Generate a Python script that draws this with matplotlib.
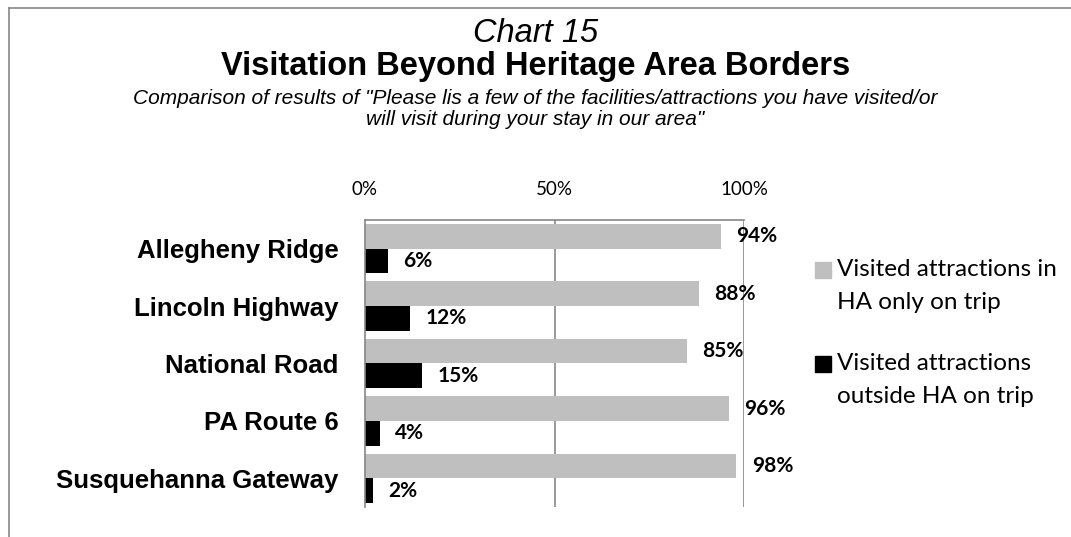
import matplotlib
matplotlib.use("Agg")
import matplotlib.pyplot as plt
from matplotlib.lines import Line2D
from matplotlib.patches import Rectangle
import numpy as np

# data
regions = ["Allegheny Ridge", "Lincoln Highway", "National Road",
           "PA Route 6", "Susquehanna Gateway"]
in_ha_only = [94, 88, 85, 96, 98]
outside_ha = [6, 12, 15, 4, 2]
series_names = ["Visited attractions in\nHA only on trip",
                "Visited attractions\noutside HA on trip"]
series_colors = ["#bfbfbf", "#000000"]
x_ticks = [0, 50, 100]
x_tick_labels = ["0%", "50%", "100%"]

ARIAL = "Liberation Sans"
CALIBRI = "Lato"
W, H = 1071, 537

fig = plt.figure(figsize=(W / 100, H / 100), dpi=100)

# outer frame (only top and left edges show in the reference)
fig.add_artist(Line2D([9 / W, 1], [1 - 8 / H, 1 - 8 / H], color="#878787", lw=1.2,
                      transform=fig.transFigure))
fig.add_artist(Line2D([9 / W, 9 / W], [0, 1 - 8 / H], color="#878787", lw=1.2,
                      transform=fig.transFigure))

# titles
fig.text(0.5, 1 - 34 / H, "Chart 15", ha="center", va="center",
         fontsize=23.5, style="italic", family=ARIAL)
fig.text(0.5, 1 - 67 / H, "Visitation Beyond Heritage Area Borders", ha="center",
         va="center", fontsize=23.5, weight="bold", family=ARIAL)
fig.text(0.5, 1 - 109 / H,
         'Comparison of results of "Please lis a few of the facilities/attractions you have visited/or\n'
         'will visit during your stay in our area"',
         ha="center", va="center", fontsize=15, style="italic", family=ARIAL,
         linespacing=1.12)

ax = fig.add_axes([365 / W, 1 - 507 / H, 379 / W, 287 / H])
y = np.arange(len(regions))
bh = 0.43
ax.barh(y - bh / 2, in_ha_only, height=bh, color=series_colors[0])
ax.barh(y + bh / 2, outside_ha, height=bh, color=series_colors[1])

for yy, v in zip(y - bh / 2, in_ha_only):
    ax.annotate(f"{v}%", (v, yy), xytext=(11, 0), textcoords="offset points",
                ha="left", va="center", fontsize=15, weight="bold", family=CALIBRI)
for yy, v in zip(y + bh / 2, outside_ha):
    ax.annotate(f"{v}%", (v, yy), xytext=(11, 0), textcoords="offset points",
                ha="left", va="center", fontsize=15, weight="bold", family=CALIBRI)

ax.set_xlim(0, 100)
ax.set_ylim(len(regions) - 0.5, -0.5)
ax.xaxis.tick_top()
ax.set_xticks(x_ticks)
ax.set_xticklabels(x_tick_labels, family=CALIBRI, fontsize=13.5)
ax.tick_params(axis="x", length=0, pad=16)
ax.set_yticks(y)
ax.set_yticklabels(regions, family=ARIAL, fontsize=18.5, weight="bold")
ax.tick_params(axis="y", length=0, pad=19)

for xv in x_ticks[1:]:
    ax.axvline(xv, color="#868686", lw=1.2, zorder=0)
for s in ["right", "bottom"]:
    ax.spines[s].set_visible(False)
for s in ["top", "left"]:
    ax.spines[s].set_color("#868686")
    ax.spines[s].set_linewidth(1.2)

# legend, square lined up with the first line of each label
leg_y = [270, 364]
for name, col, ly in zip(series_names, series_colors, leg_y):
    fig.add_artist(Rectangle((815 / W, 1 - (ly + 8) / H), 16 / W, 16 / H,
                             color=col, transform=fig.transFigure))
    fig.text(837 / W, 1 - (ly + 16) / H, name, ha="left", va="center",
             fontsize=17.5, family=CALIBRI, linespacing=1.68)

fig.savefig("out.png", dpi=100)
